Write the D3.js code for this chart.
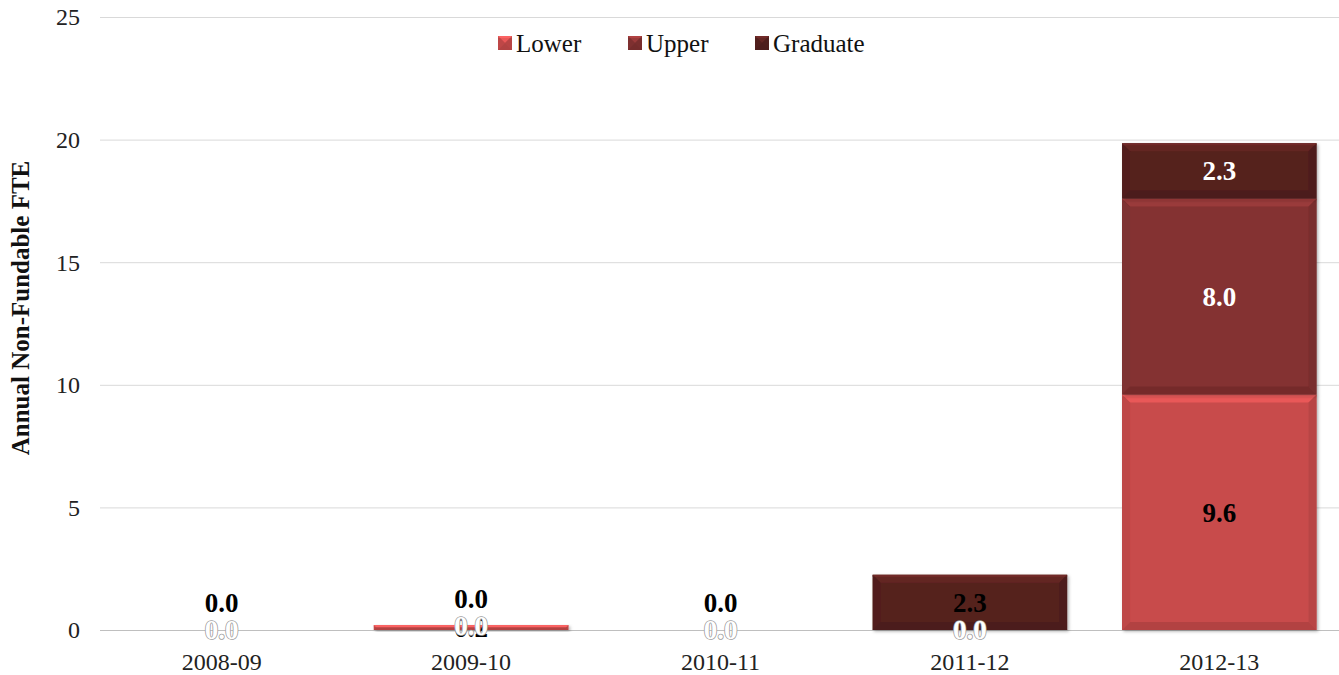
<!DOCTYPE html>
<html>
<head>
<meta charset="utf-8">
<script src="https://cdn.jsdelivr.net/npm/d3@7"></script>
<style>
  body { margin: 0; background: #fff; }
  svg { display: block; font-family: "Liberation Serif", "DejaVu Serif", serif; }
</style>
</head>
<body>
<script>
var width = 1339,
    height = 675;

// data
var categories = ["2008-09", "2009-10", "2010-11", "2011-12", "2012-13"];
var lower = [0, 0.2, 0, 0, 9.6];
var upper = [0, 0, 0, 0, 8.0];
var graduate = [0, 0, 0, 2.25, 2.25];
var seriesNames = ["Lower", "Upper", "Graduate"];
var yTicks = [0, 5, 10, 15, 20, 25];

var colors = { Lower: "#c84b4b", Upper: "#843232", Graduate: "#55211f" };

var svg = d3.select("body")
    .append("svg")
    .attr("width", width)
    .attr("height", height);

var defs = svg.append("defs");
var shadow = defs.append("filter")
    .attr("id", "shadow")
    .attr("x", "-5%").attr("y", "-5%")
    .attr("width", "115%").attr("height", "130%");
shadow.append("feDropShadow")
    .attr("dx", 1.5).attr("dy", 1.5)
    .attr("stdDeviation", 1.5)
    .attr("flood-color", "#000")
    .attr("flood-opacity", 0.3);

var x = d3.scaleBand()
    .domain(categories)
    .range([97, 1344])
    .paddingInner(0.22)
    .paddingOuter(0.11);

var y = d3.scaleLinear()
    .domain([0, 25])
    .range([630, 17]);

// gridlines
svg.append("g")
    .selectAll("line")
    .data(yTicks)
    .enter().append("line")
    .attr("x1", 100)
    .attr("x2", width)
    .attr("y1", function (d) { return y(d) + 0.5; })
    .attr("y2", function (d) { return y(d) + 0.5; })
    .style("stroke", function (d) { return d === 0 ? "#bfbfbf" : "#d9d9d9"; })
    .style("stroke-width", 1);

// y tick labels
svg.append("g")
    .selectAll("text")
    .data(yTicks)
    .enter().append("text")
    .attr("x", 80)
    .attr("y", function (d) { return y(d); })
    .attr("dy", "0.35em")
    .attr("text-anchor", "end")
    .style("font-size", "24px")
    .style("fill", "#222")
    .text(function (d) { return d; });

// x labels
svg.append("g")
    .selectAll("text")
    .data(categories)
    .enter().append("text")
    .attr("x", function (d) { return x(d) + x.bandwidth() / 2; })
    .attr("y", 670)
    .attr("text-anchor", "middle")
    .style("font-size", "24px")
    .style("fill", "#222")
    .text(function (d) { return d; });

// y axis title
svg.append("text")
    .attr("transform", "translate(29," + 308 + ") rotate(-90)")
    .attr("text-anchor", "middle")
    .style("font-size", "25px")
    .style("font-weight", "bold")
    .style("fill", "#111")
    .text("Annual Non-Fundable FTE");

// stack
var rows = categories.map(function (c, i) {
    return { cat: c, Lower: lower[i], Upper: upper[i], Graduate: graduate[i] };
});
var stack = d3.stack().keys(seriesNames)(rows);

function bevel(g, bx, by, bw, bh, color) {
    var c = d3.color(color);
    var b = Math.min(8, bh / 2);
    g.append("rect")
        .attr("x", bx).attr("y", by)
        .attr("width", bw).attr("height", bh)
        .style("fill", color);
    if (bh < 1) return;
    // top bevel
    g.append("path")
        .attr("d", "M" + bx + "," + by + "H" + (bx + bw) + "L" + (bx + bw - b) + "," + (by + b) +
            "H" + (bx + b) + "Z")
        .style("fill", c.brighter(0.5).formatHex())
        .style("opacity", 0.85);
    g.append("rect")
        .attr("x", bx).attr("y", by)
        .attr("width", bw).attr("height", Math.min(2, bh))
        .style("fill", c.brighter(0.9).formatHex())
        .style("opacity", 0.8);
    // bottom bevel
    g.append("path")
        .attr("d", "M" + bx + "," + (by + bh) + "H" + (bx + bw) + "L" + (bx + bw - b) + "," + (by + bh - b) +
            "H" + (bx + b) + "Z")
        .style("fill", c.darker(0.4).formatHex())
        .style("opacity", 0.8);
    // sides
    g.append("path")
        .attr("d", "M" + bx + "," + by + "L" + (bx + b) + "," + (by + b) + "V" + (by + bh - b) +
            "L" + bx + "," + (by + bh) + "Z")
        .style("fill", c.darker(0.25).formatHex())
        .style("opacity", 0.6);
    g.append("path")
        .attr("d", "M" + (bx + bw) + "," + by + "L" + (bx + bw - b) + "," + (by + b) + "V" + (by + bh - b) +
            "L" + (bx + bw) + "," + (by + bh) + "Z")
        .style("fill", c.darker(0.4).formatHex())
        .style("opacity", 0.6);
}

var bars = svg.append("g");
stack.forEach(function (layer) {
    layer.forEach(function (d) {
        var h = y(d[0]) - y(d[1]);
        if (h <= 0) return;
        var g = bars.append("g").attr("filter", "url(#shadow)");
        bevel(g, x(d.data.cat), y(d[1]), x.bandwidth(), h, colors[layer.key]);
    });
});

// data labels
var labels = svg.append("g")
    .style("font-size", "27px")
    .style("font-weight", "bold")
    .attr("text-anchor", "middle");

stack.forEach(function (layer) {
    layer.forEach(function (d) {
        var cx = x(d.data.cat) + x.bandwidth() / 2;
        var v = d[1] - d[0];
        var cy = y((d[0] + d[1]) / 2);
        var t = labels.append("text")
            .attr("x", cx)
            .attr("dy", "0.35em")
            .text(v.toFixed(1));
        if (layer.key === "Lower") {
            t.attr("y", cy).style("fill", "#000");
        } else if (layer.key === "Upper") {
            t.attr("y", cy)
                .style("fill", "#fff")
                .style("stroke", v > 0 ? "none" : "#a0a0a0")
                .style("stroke-width", 1.6)
                .style("paint-order", "stroke");
        } else {
            if (v === 0) {
                t.attr("y", y(d[1]) - 27).style("fill", "#000");
            } else {
                t.attr("y", cy).style("fill", d.data.Upper > 0 ? "#fff" : "#000");
            }
        }
    });
});

// legend
var legendPos = [498, 628, 755];
var legend = svg.append("g");
seriesNames.forEach(function (name, i) {
    var g = legend.append("g");
    bevel(g, legendPos[i], 36, 14, 14, colors[name]);
    legend.append("text")
        .attr("x", legendPos[i] + 18)
        .attr("y", 43)
        .attr("dy", "0.35em")
        .style("font-size", "25px")
        .style("fill", "#111")
        .text(name);
});
</script>
</body>
</html>
